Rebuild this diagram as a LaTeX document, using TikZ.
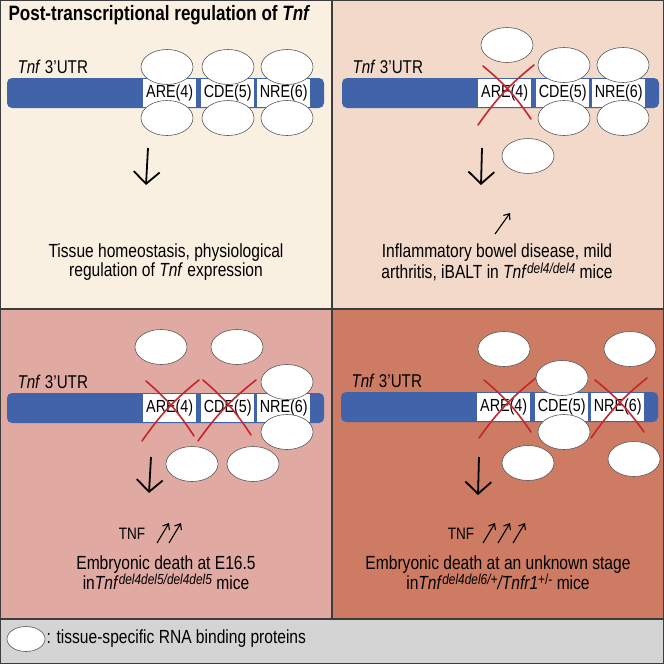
\documentclass[tikz,border=0pt]{standalone}
\usepackage{fontspec}
\setmainfont{Liberation Sans}[FakeStretch=0.82]
\usetikzlibrary{arrows.meta,shapes.geometric}

\definecolor{panelA}{HTML}{FAF0E1}
\definecolor{panelB}{HTML}{F2D9C9}
\definecolor{panelC}{HTML}{E0A9A2}
\definecolor{panelD}{HTML}{CD7B62}
\definecolor{legendgray}{HTML}{D4D4D4}
\definecolor{utrblue}{HTML}{4163A9}
\definecolor{crossred}{HTML}{C1272D}
\definecolor{framegray}{HTML}{3C3C3C}

\newcommand\allele[1]{\raisebox{5pt}{\fontsize{14.5}{15}\selectfont #1}}

\tikzset{
	frame/.style={draw=framegray, line width=1.5pt},
	rbp/.style={ellipse, draw=gray!70!black, line width=0.6pt, fill=white,
		minimum width=52pt, minimum height=35pt, inner sep=0pt},
	knockout/.style={draw=crossred, line width=1.6pt, line cap=round},
	element/.style={fill=white, inner sep=0pt, anchor=north west,
		minimum width=53pt, minimum height=28pt, font=\fontsize{17.5}{18}\selectfont},
	effect/.style={-{Straight Barb[length=12pt,width=26pt]}, line width=1.8pt},
	rise/.style={-{Straight Barb[length=5pt,width=8pt]}, line width=1.1pt},
	outcome/.style={align=center, font=\fontsize{19}{19}\selectfont},
}

\begin{document}
\begin{tikzpicture}[x=1pt, y=-1pt]
		\useasboundingbox (0, 0) rectangle (664, 664);
		% panel backgrounds
		\fill[panelA] (0, 0) rectangle (332, 309);
		\fill[panelB] (332, 0) rectangle (664, 309);
		\fill[panelC] (0, 309) rectangle (332, 619);
		\fill[panelD] (332, 309) rectangle (664, 619);
		\fill[legendgray] (0, 619) rectangle (664, 664);

		\node[anchor=west, font=\fontsize{20.8}{22}\selectfont\bfseries] (title) at (5, 15)
			{Post-transcriptional regulation of \textit{Tnf}};

		% the 3'UTR in each panel
		\foreach \px/\py/\n in {0/0/a, 335/0/b, 0/315/c, 334/314/d}{
			\begin{scope}[shift={(\px, \py)}]
				\fill[utrblue, rounded corners=5pt] (7, 78) rectangle (324, 108);
				\node[element] (are-\n) at (143, 79) {ARE(4)};
				\node[element] (cde-\n) at (201, 79) {CDE(5)};
				\node[element] (nre-\n) at (257, 79) {NRE(6)};
				\node[anchor=west, font=\fontsize{18.5}{19}\selectfont] (utr-\n) at (14, 67)
					{\textit{Tnf} 3'UTR};
			\end{scope}
		}

		% deleted elements
		\draw[knockout] (483, 66) to[bend left=8] (531, 119);
		\draw[knockout] (478, 125) to[bend left=8] (534, 65);
		\draw[knockout] (146, 381) to[bend left=8] (194, 436);
		\draw[knockout] (142, 441) to[bend left=8] (199, 380);
		\draw[knockout] (203, 380) to[bend left=8] (251, 435);
		\draw[knockout] (198, 441) to[bend left=8] (256, 380);
		\draw[knockout] (484, 380) to[bend left=8] (531, 432);
		\draw[knockout] (479, 438) to[bend left=8] (536, 378);
		\draw[knockout] (595, 380) to[bend left=8] (644, 432);
		\draw[knockout] (591, 438) to[bend left=8] (647, 378);

		% RNA binding proteins
		\foreach \x/\y [count=\i] in {167/67, 228/67, 287/67, 167/118, 228/118, 287/118}{
			\node[rbp] (rbp-a\i) at (\x, \y) {};
		}
		\foreach \x/\y [count=\i] in {507/45, 564/65, 623/65, 564/118, 623/118, 528/156}{
			\node[rbp] (rbp-b\i) at (\x, \y) {};
		}
		\foreach \x/\y [count=\i] in {161/347, 237/347, 287/382, 287/432, 192/464, 253/464}{
			\node[rbp] (rbp-c\i) at (\x, \y) {};
		}
		\foreach \x/\y [count=\i] in {504/349, 630/349, 562/378, 564/432, 528/463, 634/459}{
			\node[rbp] (rbp-d\i) at (\x, \y) {};
		}

		% arrows down to the outcome
		\coordinate (from-a) at (148, 148);
		\coordinate (to-a) at (146, 185);
		\coordinate (from-b) at (482, 148);
		\coordinate (to-b) at (481, 185);
		\coordinate (from-c) at (151, 457);
		\coordinate (to-c) at (149, 493);
		\coordinate (from-d) at (479, 457);
		\coordinate (to-d) at (478, 495);
		\foreach \n in {a, b, c, d}{
			\draw[effect] (from-\n) -- (to-\n);
		}

		% outcomes
		\node[outcome] (out-a) at (166, 262.5)
			{Tissue homeostasis, physiological\\regulation of \textit{Tnf} expression};
		\node[outcome] (out-b) at (497, 262.5)
			{Inflammatory bowel disease, mild\\arthritis, iBALT in \textit{Tnf}\allele{\textit{del4/del4}} mice};
		\node[outcome] (out-c) at (166, 572.5)
			{Embryonic death at E16.5\\in\textit{Tnf}\allele{\textit{del4del5/del4del5}} mice};
		\node[outcome] (out-d) at (498, 572.5)
			{Embryonic death at an unknown stage\\in\textit{Tnf}\allele{\textit{del4del6/+}}\textit{/Tnfr1}\allele{+/-} mice};

		% TNF levels
		\node[font=\fontsize{16.5}{17}\selectfont] (tnf-c) at (132, 534) {TNF};
		\node[font=\fontsize{16.5}{17}\selectfont] (tnf-d) at (461, 534) {TNF};
		\draw[rise] (495, 234) -- (510, 213);
		\draw[rise] (157, 543) -- (169, 523);
		\draw[rise] (169, 543) -- (181, 523);
		\foreach \x in {483, 498, 513}{
			\draw[rise] (\x, 543) -- (\x + 12, 523);
		}

		% legend
		\node[rbp, minimum width=38pt, minimum height=25pt] (key) at (26, 639) {};
		\node[anchor=west, inner sep=1pt, font=\fontsize{19}{19}\selectfont] (key-text) at (key.east)
			{: tissue-specific RNA binding proteins};

		% frames
		\draw[frame] (0, 0) rectangle (664, 664);
		\draw[frame] (332, 0) -- (332, 619);
		\draw[frame] (0, 309) -- (664, 309);
		\draw[frame] (0, 619) -- (664, 619);
	\end{tikzpicture}
\end{document}
